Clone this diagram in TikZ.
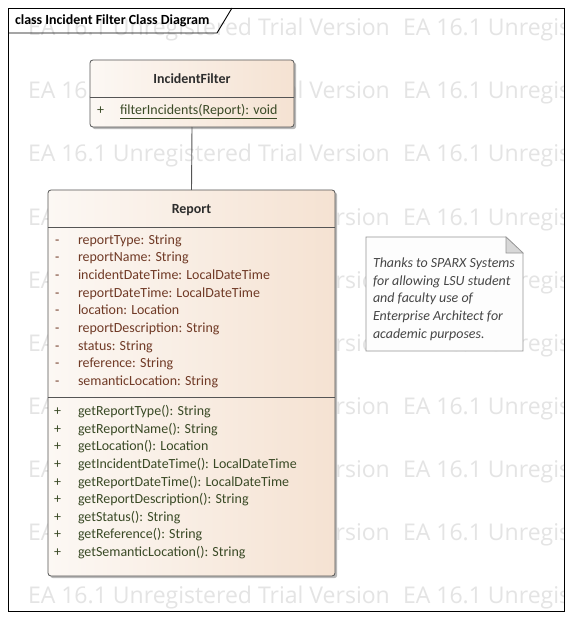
\documentclass[tikz,border=0pt]{standalone}
\usepackage{fontspec}
\setmainfont{Carlito}
\newfontfamily\wmfont{Open Sans}
\usetikzlibrary{shadows,calc}
\newlength\tmplen
\settowidth\tmplen{\fontsize{10bp}{12bp}\selectfont incidentDateTime: LocalDateTime}
\pgfmathsetmacro\mainsize{10*192.7/\tmplen}
\settowidth\tmplen{\wmfont\fontsize{10bp}{12bp}\selectfont EA 16.1 Unregistered Trial Version}
\pgfmathsetmacro\wmsize{10*363.2/\tmplen}
\newcommand\mainfs{\fontsize{\mainsize bp}{\mainsize bp}\selectfont}
\newcommand\wmfs{\wmfont\fontsize{\wmsize bp}{\wmsize bp}\selectfont}
\definecolor{wmgray}{RGB}{228,228,228}
\definecolor{attrcol}{RGB}{112,58,38}
\definecolor{opcol}{RGB}{58,74,38}
\definecolor{namecol}{RGB}{45,45,45}
\definecolor{boxline}{RGB}{85,85,85}
\definecolor{peachL}{RGB}{252,248,244}
\definecolor{peachR}{RGB}{245,226,210}
\definecolor{notefill}{RGB}{253,253,253}
\definecolor{noteline}{RGB}{150,150,150}
\definecolor{foldgray}{RGB}{215,215,215}
\definecolor{notetext}{RGB}{70,70,70}
\begin{document}
\begin{tikzpicture}[x=1bp,y=-1bp,
  every node/.style={inner sep=0pt,outer sep=0pt},
  wm/.style={anchor=base west,text=wmgray,font=\wmfs},
  attr/.style={anchor=base west,text=attrcol,font=\mainfs},
  op/.style={anchor=base west,text=opcol,font=\mainfs},
  cname/.style={font=\mainfs\bfseries,text=namecol},
  notetxt/.style={anchor=base west,text=notetext,font=\mainfs\itshape},
  classbox/.style={draw=boxline,line width=0.8bp,rounded corners=3bp,
    left color=peachL,right color=peachR,
    drop shadow={shadow xshift=2.2bp,shadow yshift=-2.2bp,fill=black!60,opacity=0.45}},
  divider/.style={draw=boxline,line width=0.8bp},
  frameline/.style={draw=black,line width=0.9bp},
  conn/.style={draw=boxline,line width=0.9bp}]
\useasboundingbox (0,0) rectangle (572,620);
\fill[white] (0,0) rectangle (572,620);
% watermark
\begin{scope}
\clip (8,8) rectangle (564,611);
\foreach \r in {0,...,9}{
  \node[wm] (wmA\r) at (28,{36+63*\r}) {EA 16.1 Unregistered Trial Version};
  \node[wm] (wmB\r) at (403,{36+63*\r}) {EA 16.1 Unregistered Trial Version};
}
\end{scope}
% frame
\draw[frameline] (8,8) rectangle (564,611);
\draw[frameline] (8,33) -- (217,33) -- (232,8);
\node[anchor=base west,font=\mainfs\bfseries,text=black] (title) at (15,25) {class Incident Filter Class Diagram};
% IncidentFilter
\node[classbox,minimum width=204bp,minimum height=67bp] (filter) at (192,93.5) {};
\draw[divider] ($(filter.north west)+(0,37)$) -- ($(filter.north east)+(0,37)$);
\node[cname] (filtername) at (192,79) {IncidentFilter};
\node[op] (fvis) at (97,115) {+};
\node[op] (fm1) at (120,115) {\underline{filterIncidents(Report): void}};
% Report
\node[classbox,minimum width=287bp,minimum height=386bp] (report) at (191.5,383) {};
\draw[divider] ($(report.north west)+(0,37)$) -- ($(report.north east)+(0,37)$);
\draw[divider] ($(report.north west)+(0,207)$) -- ($(report.north east)+(0,207)$);
\node[cname] (reportname) at (191.5,210) {Report};
\foreach \t [count=\i from 0] in {reportType: String,reportName: String,incidentDateTime: LocalDateTime,reportDateTime: LocalDateTime,location: Location,reportDescription: String,status: String,reference: String,semanticLocation: String}{
  \node[attr] (av\i) at (55,{244+17.7*\i}) {-};
  \node[attr] (a\i) at (78,{244+17.7*\i}) {\t};
}
\foreach \t [count=\i from 0] in {getReportType(): String,getReportName(): String,getLocation(): Location,getIncidentDateTime(): LocalDateTime,getReportDateTime(): LocalDateTime,getReportDescription(): String,getStatus(): String,getReference(): String,getSemanticLocation(): String}{
  \node[op] (ov\i) at (54,{415.7+17.6*\i}) {+};
  \node[op] (o\i) at (78,{415.7+17.6*\i}) {\t};
}
% connector
\draw[conn] (filter.south) -- (report.north);
% note
\node[minimum width=157bp,minimum height=114bp] (note) at (444.5,294) {};
\draw[draw=noteline,fill=notefill,line width=0.8bp] (366,237) -- (506,237) -- (523,253) -- (523,351) -- (366,351) -- cycle;
\draw[draw=noteline,fill=foldgray,line width=0.6bp] (506,237) -- (506,253) -- (523,253) -- cycle;
\node[notetxt] (n1) at (373,267) {Thanks to SPARX Systems};
\node[notetxt] (n2) at (373,285) {for allowing LSU student};
\node[notetxt] (n3) at (373,302.5) {and faculty use of};
\node[notetxt] (n4) at (373,320.5) {Enterprise Architect for};
\node[notetxt] (n5) at (373,338.5) {academic purposes.};
\end{tikzpicture}
\end{document}
